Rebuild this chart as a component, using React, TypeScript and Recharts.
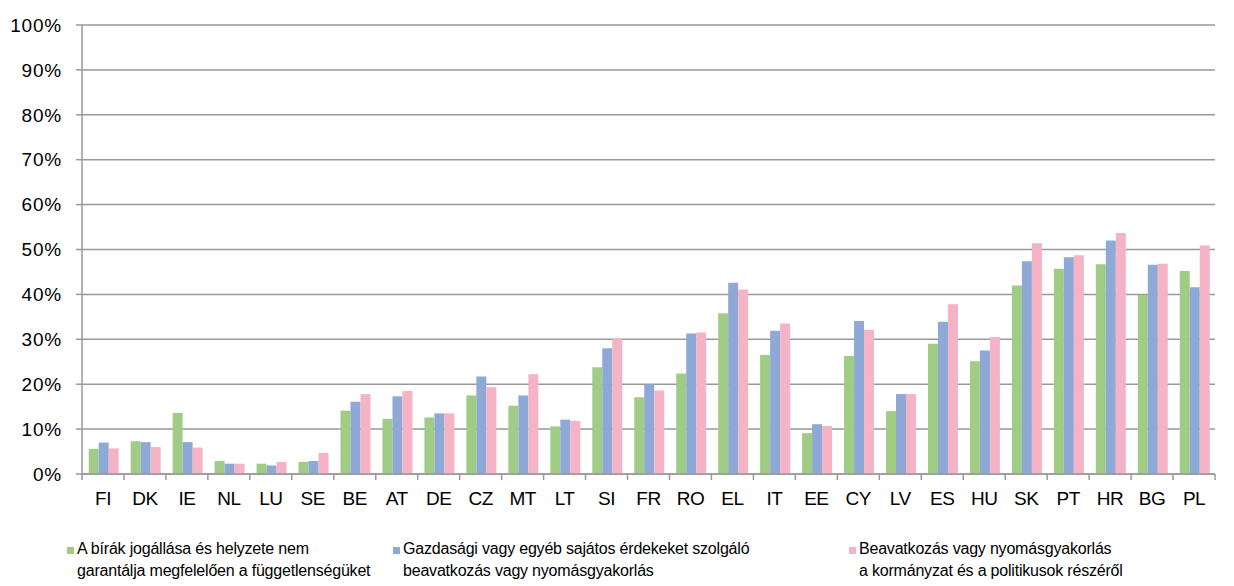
import { BarChart, Bar, XAxis, YAxis, CartesianGrid, Legend } from 'recharts';

const countries = ['FI', 'DK', 'IE', 'NL', 'LU', 'SE', 'BE', 'AT', 'DE', 'CZ', 'MT', 'LT', 'SI', 'FR', 'RO', 'EL', 'IT', 'EE', 'CY', 'LV', 'ES', 'HU', 'SK', 'PT', 'HR', 'BG', 'PL'];

const judgesStatus = [5.6, 7.3, 13.6, 2.9, 2.3, 2.7, 14.1, 12.3, 12.6, 17.5, 15.2, 10.6, 23.8, 17.1, 22.4, 35.8, 26.5, 9.1, 26.3, 14.0, 29.0, 25.1, 42.0, 45.7, 46.7, 39.9, 45.2];
const economicInterests = [7.0, 7.1, 7.1, 2.3, 1.9, 2.9, 16.1, 17.3, 13.5, 21.7, 17.5, 12.1, 28.0, 20.0, 31.3, 42.6, 31.9, 11.1, 34.1, 17.8, 33.9, 27.5, 47.4, 48.3, 52.0, 46.6, 41.6];
const governmentPressure = [5.7, 6.0, 5.9, 2.3, 2.7, 4.7, 17.8, 18.5, 13.5, 19.3, 22.2, 11.8, 30.2, 18.6, 31.5, 41.1, 33.5, 10.7, 32.1, 17.8, 37.8, 30.5, 51.4, 48.7, 53.7, 46.8, 50.9];

const yTicks = [0, 10, 20, 30, 40, 50, 60, 70, 80, 90, 100];

const legendLabels = [
    ['A bírák jogállása és helyzete nem', 'garantálja megfelelően a függetlenségüket'],
    ['Gazdasági vagy egyéb sajátos érdekeket szolgáló', 'beavatkozás vagy nyomásgyakorlás'],
    ['Beavatkozás vagy nyomásgyakorlás', 'a kormányzat és a politikusok részéről'],
];

const colors = ['#a0cc86', '#8fa9d6', '#f5b3c6'];
const gridColor = '#999999';
const font = '"Liberation Sans", Arial, sans-serif';

const data = countries.map((c, i) => ({
    country: c,
    judges: judgesStatus[i],
    economic: economicInterests[i],
    government: governmentPressure[i],
}));

const CHART_W = 1234;
const CHART_H = 586;
const MARGIN = { top: 25, right: 19, left: 0, bottom: 0 };
const Y_WIDTH = 82;
const BAND = (CHART_W - MARGIN.left - MARGIN.right - Y_WIDTH) / countries.length;

// category ticks sit on band edges, labels in the middle
const CountryTick = (props: any) => {
    const { x, y, payload, index } = props;
    const axisY = y - 8;
    return (
        <g>
            <line x1={x - BAND / 2} x2={x - BAND / 2} y1={axisY} y2={axisY + 6} stroke={gridColor} strokeWidth={1.5} />
            {index === countries.length - 1 && (
                <line x1={x + BAND / 2} x2={x + BAND / 2} y1={axisY} y2={axisY + 6} stroke={gridColor} strokeWidth={1.5} />
            )}
            <text x={x} y={axisY + 31} textAnchor="middle" fontSize={19} fill="#000" fontFamily={font} letterSpacing={-0.5}>
                {payload.value}
            </text>
        </g>
    );
};

const LegendContent = () => {
    const lefts = [67, 393, 849];
    return (
        <div style={{ position: 'relative', height: 60, fontFamily: font, fontSize: 16, color: '#000' }}>
            {legendLabels.map((lines, i) => (
                <div key={i} style={{ position: 'absolute', left: lefts[i], top: 12, display: 'flex', alignItems: 'flex-start' }}>
                    <span style={{ display: 'inline-block', width: 7, height: 7, background: colors[i], marginTop: 9, marginRight: 3 }} />
                    <div style={{ lineHeight: '22px', whiteSpace: 'nowrap', letterSpacing: -0.2 }}>
                        {lines.map((l, j) => (
                            <div key={j}>{l}</div>
                        ))}
                    </div>
                </div>
            ))}
        </div>
    );
};

const App = () => {
    return (
        <div style={{ width: CHART_W, height: CHART_H, background: '#fff' }}>
            <style>{'body{margin:0}'}</style>
            <BarChart width={CHART_W} height={CHART_H} data={data} margin={MARGIN} barGap={0} barCategoryGap="16%">
                <CartesianGrid vertical={false} stroke={gridColor} strokeWidth={1.5} />
                <XAxis
                    dataKey="country"
                    height={52}
                    axisLine={{ stroke: gridColor, strokeWidth: 1.5 }}
                    tickLine={false}
                    tick={<CountryTick />}
                    interval={0}
                />
                <YAxis
                    width={Y_WIDTH}
                    domain={[0, 100]}
                    ticks={yTicks}
                    tickFormatter={(v) => `${v}%`}
                    axisLine={{ stroke: gridColor, strokeWidth: 1.5 }}
                    tickLine={{ stroke: gridColor, strokeWidth: 1.5 }}
                    tickSize={6}
                    tickMargin={14}
                    tick={{ fill: '#000', fontSize: 19, fontFamily: font, letterSpacing: 0.8 }}
                />
                <Legend verticalAlign="bottom" height={60} content={<LegendContent />} />
                <Bar dataKey="judges" fill={colors[0]} isAnimationActive={false} />
                <Bar dataKey="economic" fill={colors[1]} isAnimationActive={false} />
                <Bar dataKey="government" fill={colors[2]} isAnimationActive={false} />
            </BarChart>
        </div>
    );
};

export default App;
